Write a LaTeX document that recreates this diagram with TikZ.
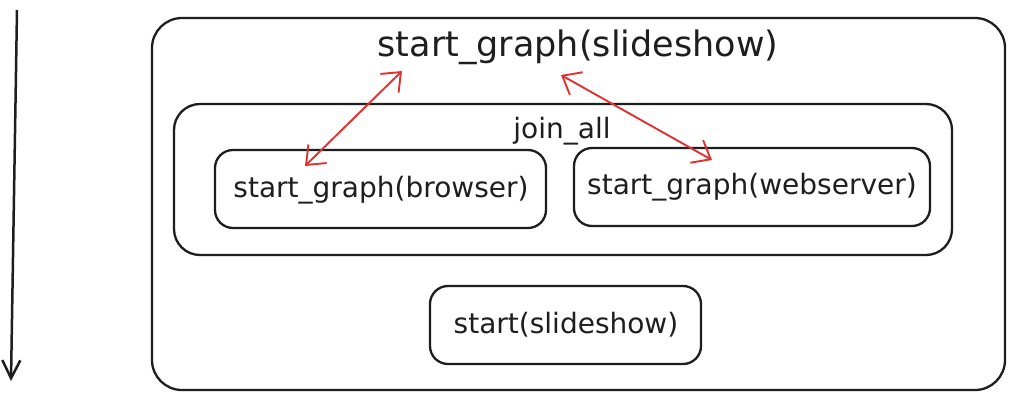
\documentclass[tikz,border=0pt]{standalone}
\usepackage{fontspec}
\setmainfont{DejaVu Sans}
\usetikzlibrary{arrows.meta}
\definecolor{ink}{HTML}{1E1E1E}
\definecolor{exred}{HTML}{E03131}
\tikzset{
  frame/.style={draw=ink, line width=2.3pt, rounded corners=#1, inner sep=0pt},
  lbl/.style={text=ink, font=\fontsize{28}{30}\selectfont, inner sep=0pt},
  biglbl/.style={text=ink, font=\fontsize{35}{37}\selectfont, inner sep=0pt},
  redarrow/.style={draw=exred, line width=1.9pt, {Straight Barb[length=16pt,width=26pt,line width=1.9pt]}-{Straight Barb[length=16pt,width=26pt,line width=1.9pt]}},
  timearrow/.style={draw=ink, line width=2.5pt, -{Straight Barb[length=18pt,width=18pt,line width=2.5pt]}}
}
\begin{document}
\begin{tikzpicture}[x=1pt,y=-1pt]
\useasboundingbox[fill=white] (0,0) rectangle (1015,400);
% left time arrow
\coordinate (ttop) at (17,10);
\coordinate (tbot) at (11,381);
\draw[timearrow] (ttop) -- (tbot);
% outer box
\draw[frame=30pt] (152,18) rectangle (1005,390);
\node[biglbl] (title) at (578,47) {start\_graph(slideshow)};
% join_all box
\draw[frame=26pt] (174,104) rectangle (952,255);
\node[lbl] (join) at (562,131) {join\_all};
% browser
\draw[frame=18pt] (215,150) rectangle (546,228);
\node[lbl] (browser) at (381,190) {start\_graph(browser)};
% webserver
\draw[frame=18pt] (574,148) rectangle (930,226);
\node[lbl] (web) at (752,187) {start\_graph(webserver)};
% bottom
\draw[frame=18pt] (430,286) rectangle (701,364);
\node[lbl] (start) at (566,325) {start(slideshow)};
% red arrows
\coordinate (a1s) at (402,71);
\coordinate (a1e) at (305,166);
\coordinate (a2s) at (561,75);
\coordinate (a2e) at (712,160);
\draw[redarrow] (a1s) -- (a1e);
\draw[redarrow] (a2s) -- (a2e);
\end{tikzpicture}
\end{document}
